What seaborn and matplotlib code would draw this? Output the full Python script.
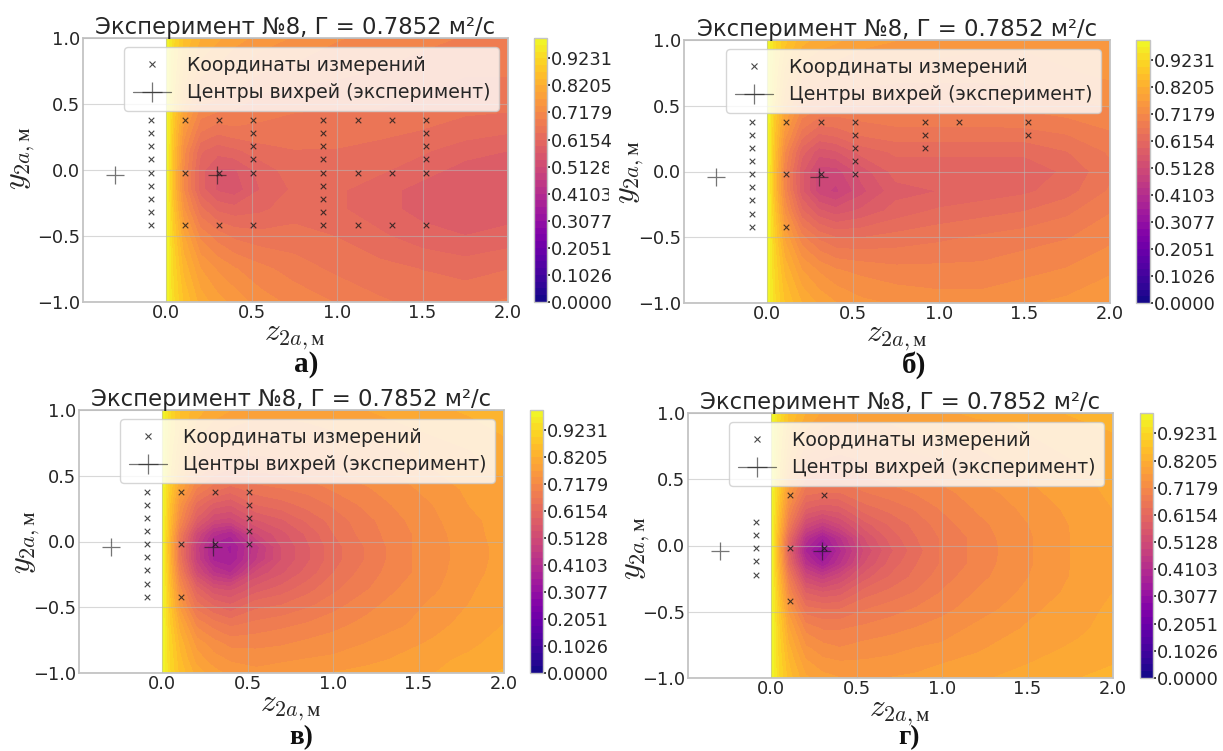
import numpy as np
import seaborn as sns
import matplotlib.pyplot as plt
from matplotlib.lines import Line2D
from matplotlib.patches import Rectangle

# Field grids, values
z_coarse = [0, 0.04, 0.1, 0.2, 0.3, 0.4, 0.55, 0.75, 1.0, 1.25, 1.5, 1.75, 2.0]
y_coarse = [1.0, 0.75, 0.5, 0.3, 0.15, 0.0, -0.15, -0.3, -0.5, -0.75, -1.0]
z_fine = [0, 0.04, 0.1, 0.2, 0.3, 0.4, 0.55, 0.7, 0.85, 1.0, 1.2, 1.4, 1.6, 1.8, 2.0]
y_fine = [1.0, 0.85, 0.7, 0.55, 0.4, 0.28, 0.16, 0.06, -0.04, -0.14, -0.24, -0.36, -0.48, -0.63, -0.78, -0.9, -1.0]

field_a = [
    [1, .93, .87, .82, .80, .78, .76, .74, .72, .71, .70, .69, .68],
    [1, .92, .84, .78, .76, .74, .72, .71, .70, .69, .68, .67, .67],
    [1, .90, .80, .72, .71, .70, .68, .67, .67, .67, .66, .65, .65],
    [1, .88, .76, .67, .65, .66, .66, .66, .65, .65, .64, .63, .62],
    [1, .87, .73, .62, .60, .61, .63, .64, .64, .63, .62, .60, .59],
    [1, .86, .72, .60, .56, .56, .60, .63, .63, .62, .60, .58, .58],
    [1, .86, .72, .60, .56, .55, .59, .62, .62, .60, .58, .57, .58],
    [1, .88, .75, .65, .61, .60, .61, .63, .62, .60, .58, .57, .575],
    [1, .90, .80, .71, .68, .66, .65, .65, .64, .62, .60, .59, .60],
    [1, .92, .84, .77, .74, .72, .70, .68, .66, .65, .64, .63, .64],
    [1, .93, .87, .81, .78, .76, .73, .71, .69, .67, .66, .66, .67],
]
field_b = [
    [1, .93, .88, .83, .81, .80, .78, .77, .76, .75, .75, .76, .77],
    [1, .92, .84, .78, .76, .75, .74, .73, .73, .73, .73, .74, .75],
    [1, .90, .80, .72, .70, .69, .69, .69, .69, .69, .70, .71, .72],
    [1, .88, .76, .66, .62, .63, .65, .66, .66, .66, .66, .67, .69],
    [1, .87, .72, .60, .55, .56, .60, .62, .62, .62, .62, .64, .67],
    [1, .86, .70, .57, .50, .50, .55, .60, .60, .60, .60, .62, .66],
    [1, .86, .71, .57, .50, .48, .53, .58, .59, .60, .61, .63, .67],
    [1, .88, .74, .62, .57, .55, .57, .60, .62, .63, .64, .66, .69],
    [1, .90, .79, .70, .66, .64, .64, .65, .66, .67, .68, .69, .71],
    [1, .92, .84, .77, .74, .72, .71, .70, .70, .70, .71, .72, .74],
    [1, .93, .87, .82, .79, .77, .75, .74, .73, .73, .74, .75, .76],
]
field_c = [
    [1, .93, .87, .83, .81, .795, .78, .78, .785, .79, .795, .805, .815, .825, .83],
    [1, .93, .87, .81, .78, .765, .755, .755, .76, .77, .78, .79, .80, .81, .825],
    [1, .92, .85, .78, .745, .73, .725, .73, .735, .745, .755, .77, .785, .795, .81],
    [1, .91, .83, .74, .71, .69, .70, .70, .71, .72, .735, .75, .77, .785, .80],
    [1, .90, .79, .69, .65, .63, .655, .665, .675, .695, .715, .735, .755, .775, .79],
    [1, .88, .75, .63, .58, .565, .615, .63, .65, .67, .70, .725, .745, .77, .79],
    [1, .87, .72, .58, .51, .50, .56, .585, .62, .65, .685, .715, .74, .76, .785],
    [1, .855, .68, .51, .42, .39, .51, .555, .595, .64, .68, .71, .735, .76, .78],
    [1, .845, .655, .475, .37, .355, .45, .54, .585, .63, .67, .71, .735, .755, .78],
    [1, .85, .66, .48, .38, .36, .46, .54, .585, .63, .67, .71, .735, .755, .78],
    [1, .86, .69, .52, .44, .41, .52, .56, .60, .64, .68, .71, .735, .76, .78],
    [1, .875, .73, .60, .54, .53, .575, .60, .63, .66, .69, .72, .74, .765, .785],
    [1, .89, .76, .65, .61, .59, .63, .64, .66, .68, .71, .73, .75, .77, .79],
    [1, .905, .81, .71, .68, .66, .675, .685, .695, .71, .725, .74, .76, .78, .795],
    [1, .92, .84, .76, .73, .71, .71, .715, .725, .73, .745, .76, .775, .79, .805],
    [1, .925, .855, .785, .755, .74, .735, .74, .745, .75, .76, .775, .79, .80, .81],
    [1, .93, .865, .81, .78, .76, .75, .755, .76, .77, .78, .79, .795, .81, .825],
]
field_d = [
    [1, .94, .87, .82, .79, .78, .78, .78, .785, .79, .80, .80, .815, .825, .83],
    [1, .93, .85, .79, .76, .755, .755, .76, .77, .775, .78, .79, .80, .81, .82],
    [1, .92, .83, .75, .73, .72, .73, .735, .745, .75, .765, .78, .79, .80, .815],
    [1, .91, .80, .71, .69, .69, .70, .71, .72, .73, .75, .765, .78, .79, .805],
    [1, .90, .76, .65, .64, .64, .665, .68, .695, .71, .73, .75, .77, .785, .80],
    [1, .88, .72, .59, .57, .58, .63, .65, .67, .695, .72, .74, .76, .78, .795],
    [1, .86, .68, .51, .47, .51, .58, .62, .65, .68, .71, .73, .755, .775, .79],
    [1, .84, .63, .43, .36, .43, .54, .60, .64, .67, .70, .73, .75, .775, .79],
    [1, .83, .60, .38, .30, .40, .52, .585, .63, .67, .70, .727, .752, .775, .79],
    [1, .84, .63, .43, .36, .43, .54, .60, .64, .67, .70, .73, .75, .775, .79],
    [1, .86, .68, .51, .47, .51, .58, .62, .65, .68, .71, .73, .755, .775, .79],
    [1, .88, .72, .59, .57, .58, .63, .65, .67, .695, .72, .74, .76, .78, .795],
    [1, .90, .76, .65, .64, .64, .665, .68, .695, .71, .73, .75, .77, .785, .80],
    [1, .91, .80, .71, .69, .69, .70, .71, .72, .73, .75, .765, .78, .79, .805],
    [1, .92, .83, .75, .73, .72, .73, .735, .745, .75, .765, .78, .79, .80, .815],
    [1, .925, .85, .78, .755, .75, .75, .755, .76, .77, .78, .79, .80, .81, .82],
    [1, .93, .86, .80, .78, .77, .77, .77, .775, .78, .79, .80, .81, .82, .83],
]

# Measurement coordinates: one (z, list of y) per column of crosses
y_all = [0.38, 0.28, 0.18, 0.08, -0.02, -0.12, -0.22, -0.32, -0.42]
y_three = [0.38, -0.02, -0.42]
y_comb = [0.38, 0.28, 0.18, 0.08, -0.02]
y_comb_low = [0.38, 0.28, 0.18, 0.08, -0.02, -0.42]
points_a = [(-0.09, y_all), (0.11, y_three), (0.31, y_three), (0.51, y_comb_low),
            (0.92, y_all), (1.12, y_three), (1.32, y_three), (1.52, y_comb_low)]
points_b = [(-0.09, y_all), (0.11, y_three), (0.31, [0.38, -0.02]), (0.51, y_comb),
            (0.92, [0.38, 0.28, 0.18]), (1.12, [0.38]), (1.52, [0.38, 0.28])]
points_c = [(-0.09, y_all), (0.11, y_three), (0.31, [0.38, -0.02]), (0.51, y_comb)]
points_d = [(-0.09, [0.18, 0.08, -0.02, -0.12, -0.22]), (0.11, y_three), (0.31, [0.38, -0.02])]

centers_z = [-0.3, 0.3]
centers_y = [-0.04, -0.04]

title = "Эксперимент №8, Г = 0.7852 м²/с"
legend_labels = ["Координаты измерений", "Центры вихрей (эксперимент)"]
x_ticks = [0.0, 0.5, 1.0, 1.5, 2.0]
y_ticks = [-1.0, -0.5, 0.0, 0.5, 1.0]

W, H = 1223, 751

sns.set_theme(style="whitegrid")
plt.rcParams['font.family'] = ['DejaVu Sans']
plt.rcParams['mathtext.fontset'] = 'cm'
plt.rcParams['mathtext.fallback'] = 'stix'

fig = plt.figure(figsize=(W / 100, H / 100), dpi=100)


def px_axes(left, top, right, bottom):
    return fig.add_axes([left / W, 1 - bottom / H, (right - left) / W, (bottom - top) / H])


levels = np.linspace(0, 1, 40)

panels = [
    (z_coarse, y_coarse, field_a, points_a, (82.5, 38, 508, 302), (534, 547), "а)", (306, 365), 0.545, 0),
    (z_coarse, y_coarse, field_b, points_b, (683.5, 40, 1110, 303), (1136, 1149.5), "б)", (914, 365), 0.5, -5.5),
    (z_fine, y_fine, field_c, points_c, (78.5, 410, 504, 673), (530, 543), "в)", (301, 738), 0.5, -6.5),
    (z_fine, y_fine, field_d, points_d, (687.5, 413, 1113, 678), (1140, 1153), "г)", (909, 738), 0.49, -7),
]

for i, (z_grid, y_grid, field, points, box, cbar_x, letter, letter_xy, ylab_y, ylab_pad) in enumerate(panels):
    ax = px_axes(*box)
    cs = ax.contourf(z_grid, y_grid, np.array(field), levels=levels, cmap='plasma', vmin=0, vmax=1)

    pts_z = [z for z, ys in points for _ in ys]
    pts_y = [y for _, ys in points for y in ys]
    sns.scatterplot(x=pts_z, y=pts_y, marker='x', color='k', s=16, linewidth=0.8, alpha=0.8, ax=ax, zorder=3)
    sns.scatterplot(x=centers_z, y=centers_y, marker='+', color='k', s=177, linewidth=0.9, alpha=0.6, ax=ax, zorder=3)

    ax.set_xlim(-0.49, 2.0)
    ax.set_ylim(-1.0, 1.0)
    ax.set_xticks(x_ticks)
    ax.set_yticks(y_ticks)
    ax.tick_params(labelsize=12.8, pad=1.5, length=0, colors='#262626')
    ax.set_axisbelow(False)
    ax.grid(True, color='#b8b8b8', lw=0.8, alpha=0.55)
    for s in ax.spines.values():
        s.set_color('#c4c4c4')
        s.set_linewidth(1.3)
    ax.set_title(title, fontsize=16.4, pad=3, color='#262626')
    ax.set_xlabel(r'$z_{2a,\mathrm{м}}$', fontsize=22.5, labelpad=1, color='#262626')
    ax.set_ylabel(r'$y_{2a,\mathrm{м}}$', fontsize=23, labelpad=ylab_pad, y=ylab_y, color='#262626')

    handles = [
        Line2D([], [], ls='none', marker='x', color='k', ms=4, mew=0.8, alpha=0.8),
        Line2D([], [], color='k', lw=0.9, marker='+', ms=14, mew=0.9, alpha=0.6),
    ]
    ax.legend(handles, legend_labels, loc='upper right', fontsize=13.6, framealpha=0.8,
              handlelength=2.04, labelspacing=0.45, borderpad=0.45, handletextpad=0.82)

    cax = px_axes(cbar_x[0], box[1], cbar_x[1], box[3])
    cbar = fig.colorbar(cs, cax=cax, ticks=levels[::4])
    cbar.ax.set_yticklabels([f"{v:.4f}" for v in levels[::4]])
    cbar.ax.tick_params(labelsize=12.8, pad=1, length=2, colors='#262626')
    cbar.outline.set_edgecolor('#c4c4c4')
    cbar.outline.set_linewidth(1.0)

    # left picture stays under the white strip, the others above it
    ax.set_zorder(0 if i == 0 else 2)
    cax.set_zorder(0 if i == 0 else 2)

    fig.text(letter_xy[0] / W, 1 - letter_xy[1] / H, letter, ha='center', va='center',
             family='Liberation Serif', weight='bold', fontsize=21 if i < 2 else 19.5, color='#111111', zorder=3)

# The right-hand picture sits over the tail of the left colorbar labels
fig.add_artist(Rectangle((609 / W, 1 - 207 / H), 14 / W, 52 / H, transform=fig.transFigure,
                         facecolor='white', edgecolor='none', zorder=1))

fig.savefig('out.png', dpi=100)
